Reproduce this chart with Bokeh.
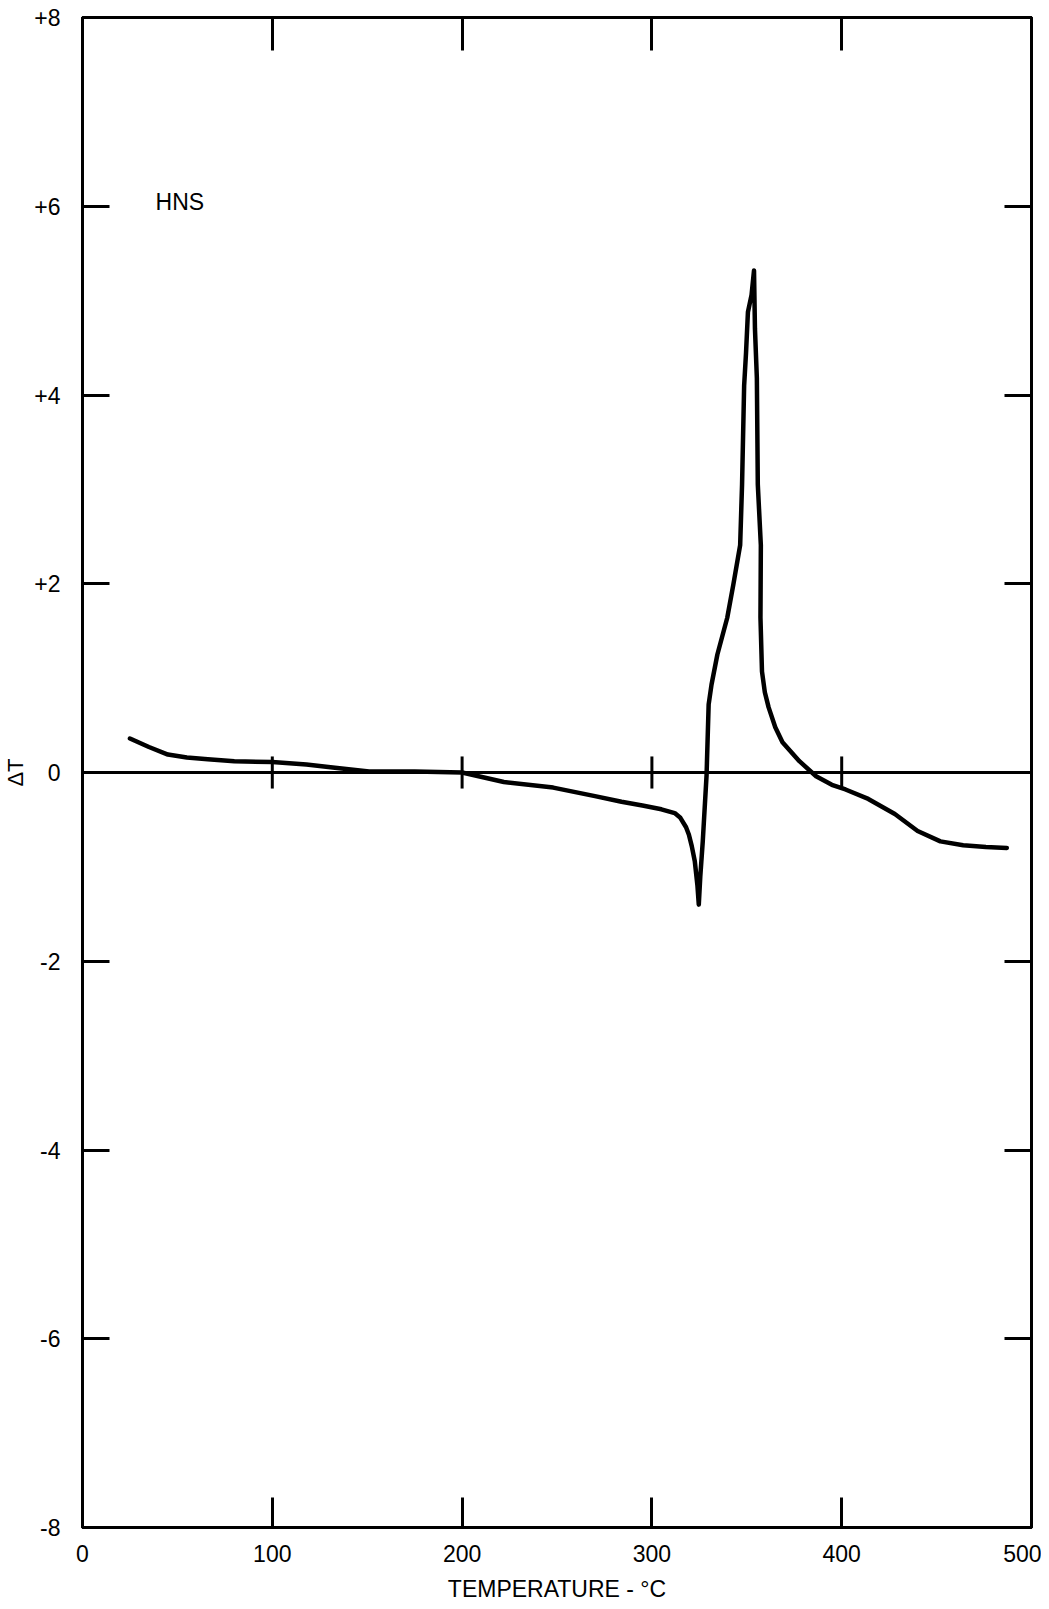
from bokeh.plotting import figure
from bokeh.models import FixedTicker, LinearAxis, Range1d, Span, Label
from bokeh.embed import file_html
from bokeh.resources import INLINE

# ---- data (DTA trace of HNS) ----
temp_c = [25, 35, 45, 55, 66, 80, 100, 118, 133, 151, 175, 200, 222, 248,
          270, 284, 295, 305, 312, 315, 318, 319.5, 321, 322.6, 324, 324.7,
          325.5, 326.8, 328.8, 329.9, 331.4, 334.5, 339.7, 342.9, 346.5,
          347.5, 348.6, 349.6, 350.6, 352.5, 353.8, 354.3, 355.3, 355.8,
          357.4, 357.2, 358.0, 359.5, 361.5, 365, 368.8, 377.7, 386.5, 394.8,
          402, 414, 428, 440, 452, 464, 476, 487]
delta_t = [0.36, 0.27, 0.19, 0.16, 0.14, 0.12, 0.11, 0.085, 0.05, 0.01, 0.01,
           0.0, -0.10, -0.16, -0.25, -0.31, -0.35, -0.39, -0.43, -0.48, -0.58,
           -0.66, -0.78, -0.94, -1.2, -1.40, -1.1, -0.73, -0.03, 0.72, 0.93,
           1.25, 1.64, 1.99, 2.41, 3.05, 4.1, 4.45, 4.88, 5.06, 5.32, 4.7,
           4.18, 3.05, 2.41, 1.64, 1.07, 0.85, 0.69, 0.48, 0.32, 0.12, -0.04,
           -0.13, -0.18, -0.28, -0.44, -0.62, -0.73, -0.77, -0.79, -0.80]

x_ticks = [0, 100, 200, 300, 400, 500]
x_tick_labels = ["0", "100", "200", "300", "400", "500"]
y_ticks = [-8, -6, -4, -2, 0, 2, 4, 6, 8]
y_tick_labels = ["-8", "-6", "-4", "-2", "0", "+2", "+4", "+6", "+8"]
zero_line_marks = [100, 200, 300, 400]
sample_name = "HNS"
x_title = "TEMPERATURE - °C"
y_title = "\u0394T"

FONT = "Liberation Sans"
FS = "23px"

p = figure(width=1041, height=1608,
           x_range=Range1d(0, 500), y_range=Range1d(-8, 8),
           output_backend="svg", toolbar_location=None,
           min_border_left=80, min_border_right=10,
           min_border_top=17, min_border_bottom=81)

p.grid.visible = False
p.outline_line_color = "black"
p.outline_line_width = 3
p.background_fill_color = "white"
p.border_fill_color = "white"


def style_axis(ax, ticks, labels, tick_in, show_labels):
    ax.ticker = FixedTicker(ticks=ticks)
    ax.major_tick_in = tick_in
    ax.major_tick_out = 0
    ax.major_tick_line_width = 3
    ax.major_tick_line_color = "black"
    ax.minor_tick_line_color = None
    ax.axis_line_color = "black"
    ax.axis_line_width = 3
    if show_labels:
        ax.major_label_overrides = {t: l for t, l in zip(ticks, labels)}
        ax.major_label_text_font = FONT
        ax.major_label_text_font_size = FS
        ax.major_label_text_color = "black"
    else:
        ax.major_label_overrides = {t: "" for t in ticks}
        ax.major_label_text_font_size = "0px"
        ax.major_label_standoff = 0


# bottom axis
xb = p.xaxis[0]
style_axis(xb, x_ticks, x_tick_labels, 30, True)
xb.major_label_standoff = 17
xb.axis_label = x_title
xb.axis_label_text_font = FONT
xb.axis_label_text_font_size = FS
xb.axis_label_text_font_style = "normal"
xb.axis_label_text_color = "black"
xb.axis_label_standoff = 11

# left axis
yl = p.yaxis[0]
style_axis(yl, y_ticks, y_tick_labels, 27, True)
yl.major_label_standoff = 22
yl.axis_label = y_title
yl.axis_label_text_font = FONT
yl.axis_label_text_font_size = "22px"
yl.axis_label_text_font_style = "normal"
yl.axis_label_text_color = "black"
yl.axis_label_standoff = 3

# top and right axes (ticks only)
xt = LinearAxis()
style_axis(xt, x_ticks, x_tick_labels, 33, False)
p.add_layout(xt, "above")
yr = LinearAxis()
style_axis(yr, y_ticks, y_tick_labels, 27, False)
p.add_layout(yr, "right")

# zero baseline with its small cross marks
p.add_layout(Span(location=0, dimension="width", line_color="black", line_width=3))
p.segment(x0=zero_line_marks, y0=[-0.17] * len(zero_line_marks),
          x1=zero_line_marks, y1=[0.17] * len(zero_line_marks),
          line_color="black", line_width=3)

# DTA trace
p.line(temp_c, delta_t, line_color="black", line_width=4.5,
       line_join="round", line_cap="round")

p.add_layout(Label(x=38.5, y=6.04, text=sample_name, text_baseline="middle",
                   text_align="left", text_font=FONT, text_font_size=FS,
                   text_color="black"))

open("out.html", "w").write(file_html(p, INLINE))
